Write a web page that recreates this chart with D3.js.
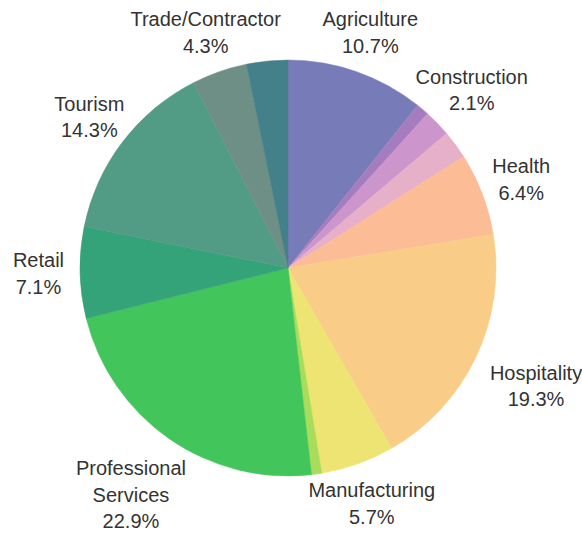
<!DOCTYPE html>
<html>
<head>
<meta charset="utf-8">
<script src="https://cdn.jsdelivr.net/npm/d3@7"></script>
<style>
  html, body { margin: 0; padding: 0; background: #ffffff; }
  svg { display: block; }
</style>
</head>
<body>
<svg id="chart" width="582" height="534"></svg>
<script>
// Business sectors, clockwise from 12 o'clock; empty names are small unlabelled slices
const sectors = [
  "Agriculture", "", "Construction", "", "Health", "Hospitality",
  "Manufacturing", "", "Professional Services", "Retail", "Tourism",
  "Trade/Contractor", ""
];
// Share of businesses, percent
const shares = [10.7, 1.0, 2.1, 2.2, 6.4, 19.3, 5.7, 0.8, 22.9, 7.1, 14.3, 4.3, 3.2];

// Slice fills, one per sector
const palette = [
  "#777cb8", "#a57dbe", "#cc96cc", "#e5b0c8", "#fcbc96", "#f9cc87",
  "#eee473", "#a8dc5a", "#42c55a", "#34a37a", "#529b85", "#6e8f85", "#44808a"
];

const width = 582, height = 534;
const cx = 288, cy = 268, radius = 208;
const lineHeight = 26.5, capHalf = 7.2;
const labelFactor = 1.2;
const labelFactorOverride = {
  "Construction": 1.23,
  "Hospitality": 1.32,
  "Professional Services": 1.325
};

const data = sectors.map((name, i) => ({ name, value: shares[i], color: palette[i] }));

const pie = d3.pie().sort(null).value(d => d.value);
const arcs = pie(data);
const arc = d3.arc().innerRadius(0).outerRadius(radius);

const svg = d3.select("#chart");
const g = svg.append("g").attr("transform", `translate(${cx},${cy})`);

g.selectAll("path.slice")
  .data(arcs)
  .join("path")
  .attr("class", "slice")
  .attr("d", arc)
  .attr("fill", d => d.data.color)
  .attr("stroke", d => d.data.color)
  .attr("stroke-width", 0.5);

const fmt = d3.format(".1f");

g.selectAll("text.label")
  .data(arcs.filter(d => d.data.name !== ""))
  .join("text")
  .attr("class", "label")
  .attr("text-anchor", "middle")
  .attr("font-family", "'Liberation Sans', Arial, Helvetica, sans-serif")
  .attr("font-size", 20)
  .attr("fill", "#333333")
  .each(function(d) {
    const mid = (d.startAngle + d.endAngle) / 2;
    const f = labelFactorOverride[d.data.name] || labelFactor;
    const r = radius * f;
    const x = r * Math.sin(mid);
    const y = -r * Math.cos(mid);
    const lines = d.data.name.split(" ").concat([fmt(d.data.value) + "%"]);
    const top = y - (lines.length - 1) * lineHeight / 2 + capHalf;
    const t = d3.select(this);
    lines.forEach((ln, i) => {
      t.append("tspan")
        .attr("x", x)
        .attr("y", top + i * lineHeight)
        .text(ln);
    });
  });
</script>
</body>
</html>
